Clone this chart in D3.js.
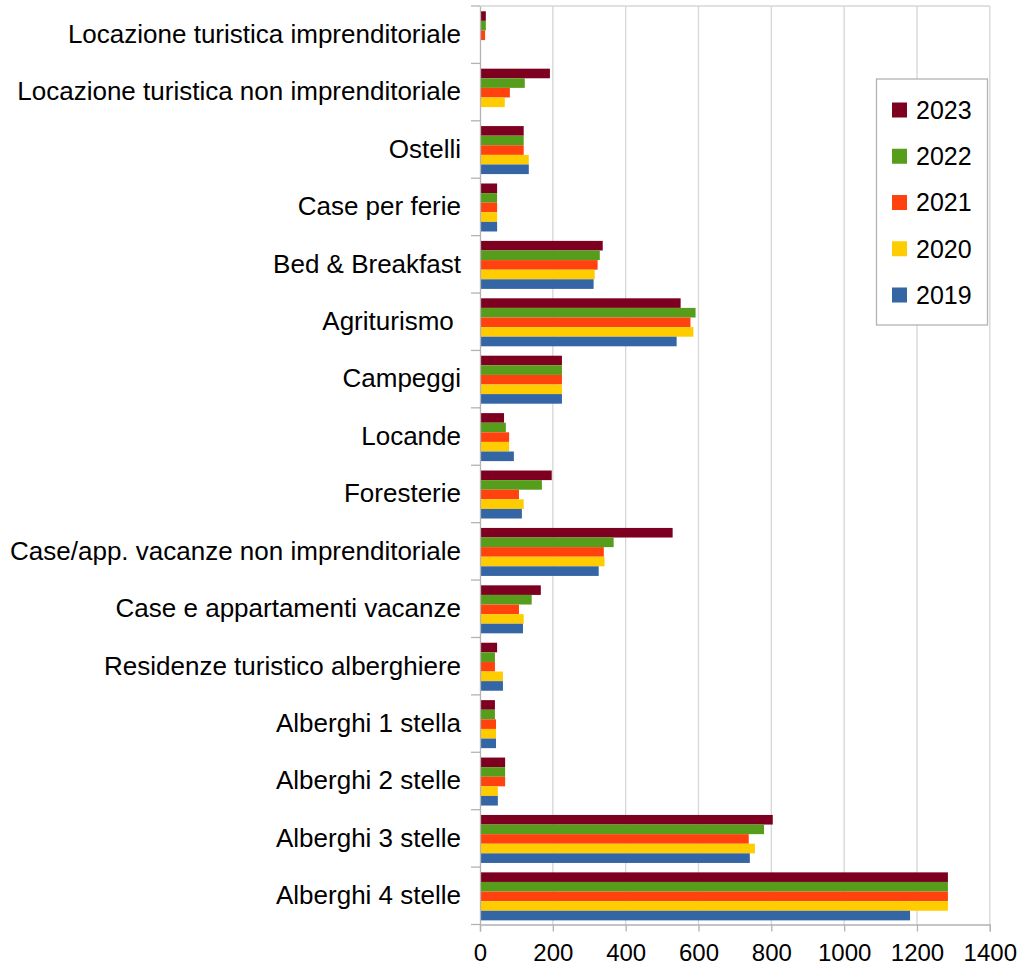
<!DOCTYPE html>
<html>
<head>
<meta charset="utf-8">
<script src="https://cdn.jsdelivr.net/npm/d3@7"></script>
<style>
  html, body { margin: 0; padding: 0; background: #fff; }
  svg { display: block; font-family: "Liberation Sans", Arial, sans-serif; }
  text { white-space: pre; }
</style>
</head>
<body>
<svg id="chart" width="1027" height="975"></svg>
<script>
const categories = [
  "Locazione turistica imprenditoriale",
  "Locazione turistica non imprenditoriale",
  "Ostelli",
  "Case per ferie",
  "Bed & Breakfast",
  "Agriturismo ",
  "Campeggi",
  "Locande",
  "Foresterie",
  "Case/app. vacanze non imprenditoriale",
  "Case e appartamenti vacanze",
  "Residenze turistico alberghiere",
  "Alberghi 1 stella",
  "Alberghi 2 stelle",
  "Alberghi 3 stelle",
  "Alberghi 4 stelle"
];
const seriesNames = ["2023", "2022", "2021", "2020", "2019"];
const v2023 = [16, 192, 120, 47, 337, 551, 225, 66, 197, 529, 167, 47, 41, 69, 804, 1285];
const v2022 = [16, 123, 120, 47, 329, 592, 225, 71, 170, 367, 142, 41, 41, 69, 780, 1285];
const v2021 = [14, 82, 120, 47, 323, 578, 225, 80, 107, 340, 107, 41, 44, 69, 738, 1285];
const v2020 = [0, 68, 134, 47, 315, 586, 225, 80, 120, 342, 120, 63, 44, 49, 755, 1285];
const v2019 = [0, 0, 134, 47, 312, 540, 225, 93, 115, 326, 118, 63, 44, 49, 741, 1181];
const seriesValues = [v2023, v2022, v2021, v2020, v2019];
const colors = ["#7e0021", "#579d1c", "#ff420e", "#ffcc00", "#3465a4"];
const xTicks = [0, 200, 400, 600, 800, 1000, 1200, 1400];

const svg = d3.select("#chart");
const pL = 480, pR = 989.8, pT = 6, pB = 924.5;

const x = d3.scaleLinear().domain([0, 1400]).range([pL, pR]);
const y = d3.scaleBand().domain(categories).range([pT, pB]).paddingInner(0).paddingOuter(0);
const inner = d3.scaleBand().domain(seriesNames).range([0, y.bandwidth()]).paddingInner(0).paddingOuter(0.49).align(0.56);

// gridlines
svg.append("g").selectAll("line").data(xTicks.slice(1)).join("line")
  .attr("x1", d => x(d)).attr("x2", d => x(d))
  .attr("y1", pT).attr("y2", pB)
  .attr("stroke", "#d6d6d6").attr("stroke-width", 1.3);
// top border
svg.append("line").attr("x1", pL).attr("x2", pR).attr("y1", pT).attr("y2", pT)
  .attr("stroke", "#d6d6d6").attr("stroke-width", 1.3);

// bars
const gBars = svg.append("g");
seriesNames.forEach((s, si) => {
  gBars.append("g").selectAll("rect").data(categories).join("rect")
    .attr("x", x(0))
    .attr("y", c => y(c) + inner(s))
    .attr("height", inner.bandwidth())
    .attr("width", (c, i) => x(seriesValues[si][i]) - x(0))
    .attr("fill", colors[si]);
});

// x axis
const xAxis = d3.axisBottom(x).tickValues(xTicks).tickSize(7).tickPadding(12).tickFormat(d3.format("d"));
const gx = svg.append("g").attr("transform", `translate(0,${pB})`).call(xAxis);
gx.select(".domain").attr("stroke", "#b3b3b3").attr("stroke-width", 1.3);
gx.selectAll(".tick line").attr("stroke", "#b3b3b3").attr("stroke-width", 1.3);
gx.selectAll(".tick text").attr("font-size", 24).attr("fill", "#000")
  .attr("font-family", "Liberation Sans, Arial, sans-serif");

// y axis
const yAxis = d3.axisLeft(y).tickSize(0).tickPadding(19);
const gy = svg.append("g").attr("transform", `translate(${pL},0)`).call(yAxis);
gy.select(".domain").attr("stroke", "#b3b3b3").attr("stroke-width", 1.3);
gy.selectAll(".tick text").attr("font-size", 26).attr("fill", "#000")
  .attr("font-family", "Liberation Sans, Arial, sans-serif");
// boundary tick marks
const bounds = categories.map(c => y(c)).concat([pB]);
svg.append("g").selectAll("line").data(bounds).join("line")
  .attr("x1", pL - 9).attr("x2", pL)
  .attr("y1", d => d).attr("y2", d => d)
  .attr("stroke", "#b3b3b3").attr("stroke-width", 1.3);

// legend
const lg = svg.append("g");
lg.append("rect").attr("x", 876.5).attr("y", 79).attr("width", 111).attr("height", 246)
  .attr("fill", "#fff").attr("stroke", "#b3b3b3").attr("stroke-width", 1.3);
const ly = d3.scalePoint().domain(seriesNames).range([110, 295]);
seriesNames.forEach((s, si) => {
  lg.append("rect").attr("x", 892).attr("y", ly(s) - 7.5).attr("width", 15).attr("height", 15)
    .attr("fill", colors[si]);
  lg.append("text").attr("x", 916).attr("y", ly(s)).attr("dy", "0.35em")
    .attr("font-size", 25).attr("fill", "#000").text(s);
});
</script>
</body>
</html>
